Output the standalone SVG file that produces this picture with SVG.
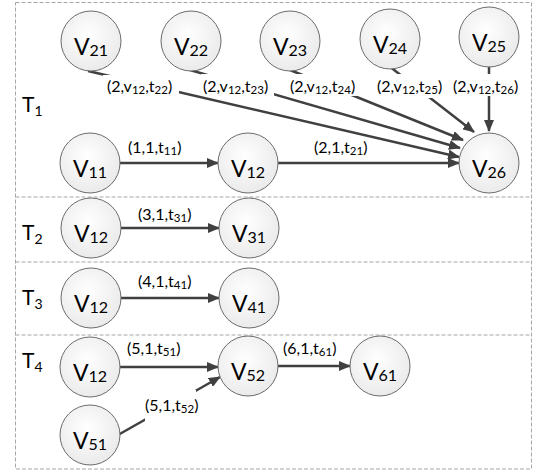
<svg xmlns="http://www.w3.org/2000/svg" width="536" height="472" viewBox="0 0 536 472">
<defs>
<radialGradient id="g" cx="0.45" cy="0.4" r="0.65">
<stop offset="0" stop-color="#ffffff"/>
<stop offset="1" stop-color="#e9e9e9"/>
</radialGradient>
<marker id="a" markerWidth="12" markerHeight="10" refX="11" refY="5" orient="auto" markerUnits="userSpaceOnUse">
<path d="M0,0 L12,5 L0,10 Z" fill="#404040"/>
</marker>
</defs>
<style>
.box{fill:none;stroke:#a6a6a6;stroke-width:1;stroke-dasharray:4 2}
.c{fill:url(#g);stroke:#6b6b6b;stroke-width:1}
.n{font-family:Lato,"Liberation Sans",sans-serif;font-size:23px;fill:#000;text-anchor:middle}
.s{font-size:16px}
.e{font-family:Lato,"Liberation Sans",sans-serif;font-size:16px;fill:#000}
.es{font-size:11.5px}
.t{font-family:Lato,"Liberation Sans",sans-serif;font-size:21px;fill:#000}
.ts{font-size:14px}
.l{stroke:#404040;stroke-width:2.5;fill:none}
.la{stroke:#404040;stroke-width:2.5;fill:none;marker-end:url(#a)}
.bg{fill:#fff}
</style>
<g id="frames">
<rect class="box" x="15.5" y="2.5" width="516" height="466.5"/>
<line class="box" x1="15.5" y1="197" x2="531.5" y2="197"/>
<line class="box" x1="15.5" y1="262" x2="531.5" y2="262"/>
<line class="box" x1="15.5" y1="335" x2="531.5" y2="335"/>
<text class="t" x="22" y="112">T<tspan class="ts" dy="4">1</tspan></text>
<text class="t" x="22" y="240">T<tspan class="ts" dy="4">2</tspan></text>
<text class="t" x="22" y="305">T<tspan class="ts" dy="4">3</tspan></text>
<text class="t" x="22" y="368">T<tspan class="ts" dy="4">4</tspan></text>
</g>
<g id="connectors">
<line class="la" x1="88" y1="71" x2="459" y2="157"/>
<line class="la" x1="190" y1="70" x2="460" y2="148"/>
<line class="la" x1="290" y1="70" x2="463" y2="140"/>
<line class="la" x1="389" y1="66" x2="474" y2="132"/>
<line class="la" x1="489" y1="66" x2="489" y2="131"/>
<line class="la" x1="119" y1="163" x2="218" y2="163"/>
<line class="la" x1="277" y1="163" x2="459" y2="163"/>
<line class="la" x1="120" y1="228" x2="219" y2="228"/>
<line class="la" x1="120" y1="298" x2="219" y2="298"/>
<line class="la" x1="119" y1="367" x2="218" y2="367"/>
<line class="la" x1="278" y1="366" x2="350" y2="366"/>
<line class="la" x1="118" y1="435" x2="220" y2="377"/>
<rect class="bg" x="103" y="75" width="76" height="22"/>
<rect class="bg" x="201" y="74" width="73" height="22"/>
<rect class="bg" x="288" y="74" width="72" height="22"/>
<rect class="bg" x="375" y="74" width="72" height="24"/>
<rect class="bg" x="451" y="74" width="72" height="22"/>
<rect class="bg" x="145" y="390" width="51" height="32"/>
<text class="e" x="107" y="92">(2,v<tspan class="es" dy="2">12</tspan><tspan dy="-2">,t</tspan><tspan class="es" dy="2">22</tspan><tspan dy="-2">)</tspan></text>
<text class="e" x="203" y="92">(2,v<tspan class="es" dy="2">12</tspan><tspan dy="-2">,t</tspan><tspan class="es" dy="2">23</tspan><tspan dy="-2">)</tspan></text>
<text class="e" x="290" y="92">(2,v<tspan class="es" dy="2">12</tspan><tspan dy="-2">,t</tspan><tspan class="es" dy="2">24</tspan><tspan dy="-2">)</tspan></text>
<text class="e" x="377" y="92">(2,v<tspan class="es" dy="2">12</tspan><tspan dy="-2">,t</tspan><tspan class="es" dy="2">25</tspan><tspan dy="-2">)</tspan></text>
<text class="e" x="453" y="92">(2,v<tspan class="es" dy="2">12</tspan><tspan dy="-2">,t</tspan><tspan class="es" dy="2">26</tspan><tspan dy="-2">)</tspan></text>
<text class="e" x="128" y="153">(1,1,t<tspan class="es" dy="2">11</tspan><tspan dy="-2">)</tspan></text>
<text class="e" x="314" y="153">(2,1,t<tspan class="es" dy="2">21</tspan><tspan dy="-2">)</tspan></text>
<text class="e" x="138" y="220">(3,1,t<tspan class="es" dy="2">31</tspan><tspan dy="-2">)</tspan></text>
<text class="e" x="138" y="287">(4,1,t<tspan class="es" dy="2">41</tspan><tspan dy="-2">)</tspan></text>
<text class="e" x="127" y="354">(5,1,t<tspan class="es" dy="2">51</tspan><tspan dy="-2">)</tspan></text>
<text class="e" x="283" y="354">(6,1,t<tspan class="es" dy="2">61</tspan><tspan dy="-2">)</tspan></text>
<text class="e" x="145" y="411">(5,1,t<tspan class="es" dy="2">52</tspan><tspan dy="-2">)</tspan></text>
</g>
<g id="V21"><circle class="c" cx="91" cy="41" r="30"/><text class="n" x="91" y="54.5">V<tspan class="s" dy="1.5">21</tspan></text></g>
<g id="V22"><circle class="c" cx="191" cy="41" r="30"/><text class="n" x="191" y="54.5">V<tspan class="s" dy="1.5">22</tspan></text></g>
<g id="V23"><circle class="c" cx="290" cy="41" r="30"/><text class="n" x="290" y="54.5">V<tspan class="s" dy="1.5">23</tspan></text></g>
<g id="V24"><circle class="c" cx="390" cy="39" r="30"/><text class="n" x="390" y="52.5">V<tspan class="s" dy="1.5">24</tspan></text></g>
<g id="V25"><circle class="c" cx="489" cy="37" r="30"/><text class="n" x="489" y="50.5">V<tspan class="s" dy="1.5">25</tspan></text></g>
<g id="V11"><circle class="c" cx="90" cy="163" r="30"/><text class="n" x="90" y="176.5">V<tspan class="s" dy="1.5">11</tspan></text></g>
<g id="V12_T1"><circle class="c" cx="248" cy="163" r="30"/><text class="n" x="248" y="176.5">V<tspan class="s" dy="1.5">12</tspan></text></g>
<g id="V26"><circle class="c" cx="489" cy="163" r="30"/><text class="n" x="489" y="176.5">V<tspan class="s" dy="1.5">26</tspan></text></g>
<g id="V12_T2"><circle class="c" cx="91" cy="228" r="30"/><text class="n" x="91" y="241.5">V<tspan class="s" dy="1.5">12</tspan></text></g>
<g id="V31"><circle class="c" cx="249" cy="228" r="30"/><text class="n" x="249" y="241.5">V<tspan class="s" dy="1.5">31</tspan></text></g>
<g id="V12_T3"><circle class="c" cx="91" cy="298" r="30"/><text class="n" x="91" y="311.5">V<tspan class="s" dy="1.5">12</tspan></text></g>
<g id="V41"><circle class="c" cx="249" cy="298" r="30"/><text class="n" x="249" y="311.5">V<tspan class="s" dy="1.5">41</tspan></text></g>
<g id="V12_T4"><circle class="c" cx="90" cy="367" r="30"/><text class="n" x="90" y="380.5">V<tspan class="s" dy="1.5">12</tspan></text></g>
<g id="V52"><circle class="c" cx="248" cy="366" r="30"/><text class="n" x="248" y="379.5">V<tspan class="s" dy="1.5">52</tspan></text></g>
<g id="V61"><circle class="c" cx="380" cy="366" r="30"/><text class="n" x="380" y="379.5">V<tspan class="s" dy="1.5">61</tspan></text></g>
<g id="V51"><circle class="c" cx="90" cy="435" r="30"/><text class="n" x="90" y="448.5">V<tspan class="s" dy="1.5">51</tspan></text></g>
</svg>
